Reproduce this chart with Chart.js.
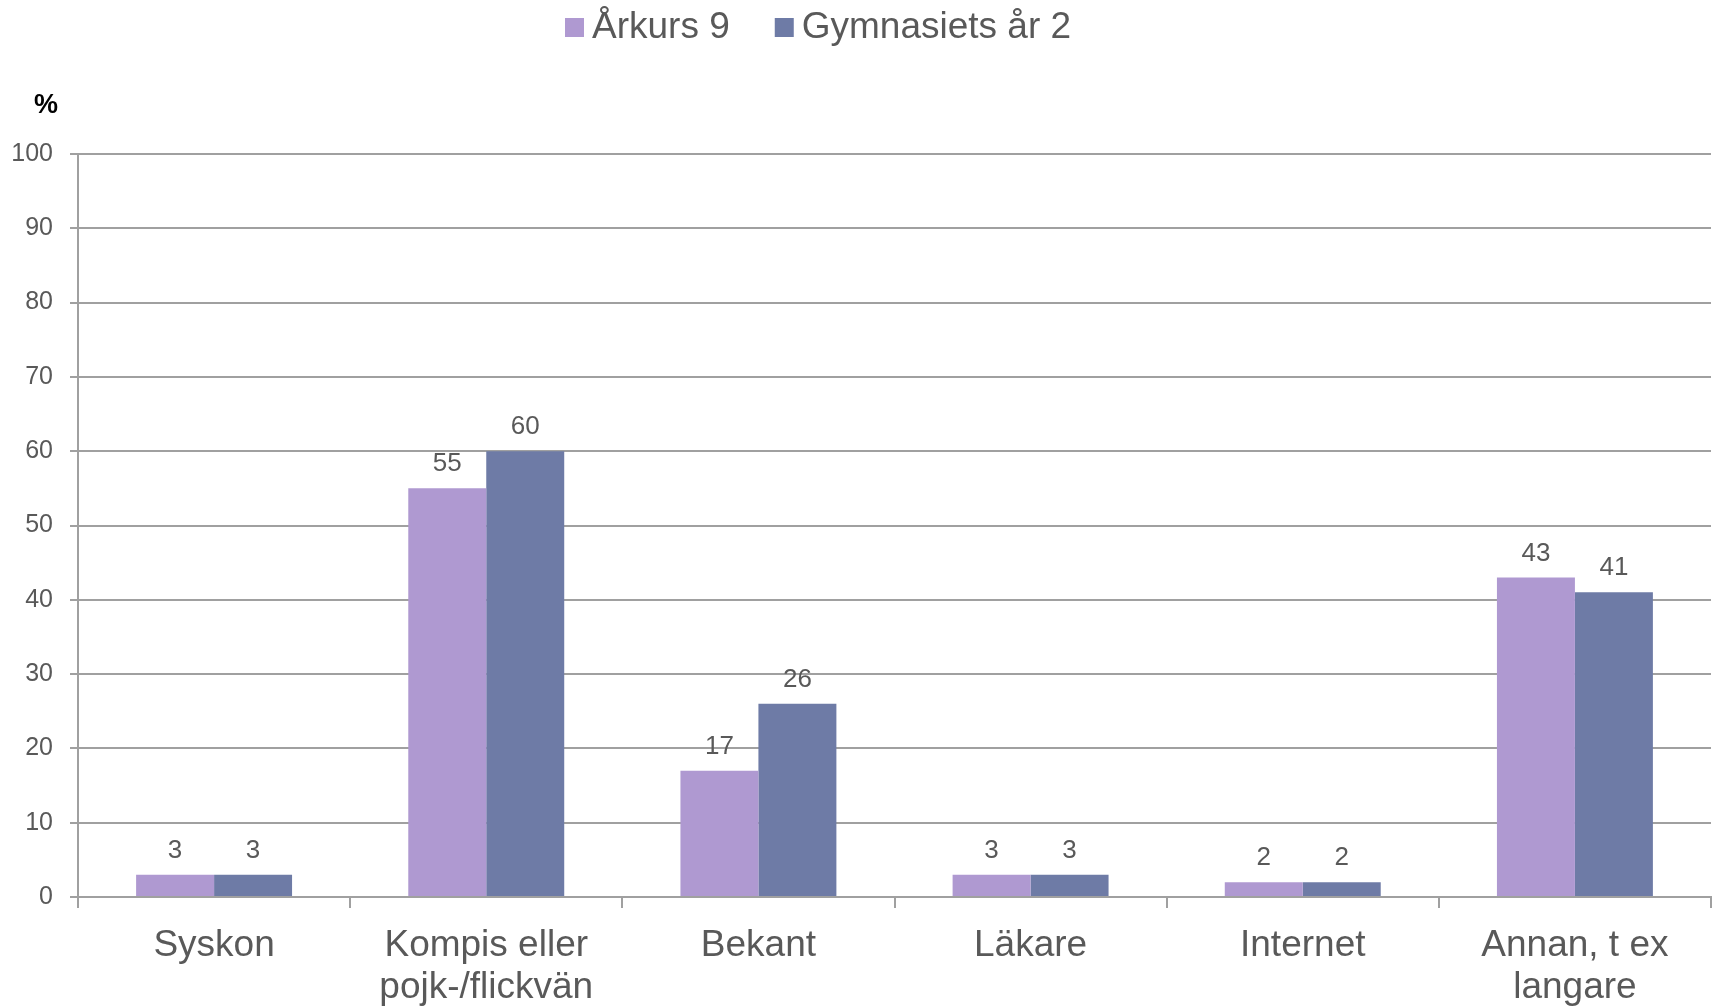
<!DOCTYPE html>
<html><head><meta charset="utf-8">
<script src="https://cdn.jsdelivr.net/npm/chart.js@4/dist/chart.umd.min.js"></script>
<style>html,body{margin:0;padding:0;background:#fff}canvas{display:block}</style>
</head><body>
<canvas id="c" width="1717" height="1007"></canvas>
<script>
const categories = ["Syskon", ["Kompis eller", "pojk-/flickvän"], "Bekant", "Läkare", "Internet", ["Annan, t ex", "langare"]];
const seriesNames = ["Årkurs 9", "Gymnasiets år 2"];
const arkurs9 = [3, 55, 17, 3, 2, 43];
const gymnasiet2 = [3, 60, 26, 3, 2, 41];
const yTicks = [0, 10, 20, 30, 40, 50, 60, 70, 80, 90, 100];
const colors = ["#AF99D1", "#6E7BA6"];
const textColor = "#595959";
const gridColor = "#A0A0A0";
const FONT = "'Liberation Sans', Arial, sans-serif";

const extras = {
  id: 'extras',
  afterDatasetsDraw(chart) {
    const ctx = chart.ctx;
    ctx.save();
    ctx.fillStyle = textColor;
    ctx.font = "26px " + FONT;
    ctx.textAlign = 'center';
    ctx.textBaseline = 'alphabetic';
    chart.data.datasets.forEach((ds, i) => {
      chart.getDatasetMeta(i).data.forEach((bar, j) => {
        ctx.fillText(String(ds.data[j]), bar.x, bar.y - 17);
      });
    });
    ctx.restore();
  },
  afterDraw(chart) {
    const ctx = chart.ctx;
    ctx.save();
    // % label
    ctx.fillStyle = "#000";
    ctx.font = "bold 27px " + FONT;
    ctx.textAlign = 'center';
    ctx.textBaseline = 'middle';
    ctx.fillText("%", 46, 106);
    // legend
    ctx.font = "37px " + FONT;
    ctx.textAlign = 'left';
    ctx.textBaseline = 'middle';
    let x = 565;
    const cy = 27;
    chart.data.datasets.forEach((ds, i) => {
      ctx.fillStyle = ds.backgroundColor;
      ctx.fillRect(x, cy - 9, 19, 19);
      x += 27;
      ctx.fillStyle = textColor;
      ctx.fillText(ds.label, x, cy + 1);
      x += ctx.measureText(ds.label).width + 45;
    });
    ctx.restore();
  }
};

new Chart(document.getElementById('c'), {
  type: 'bar',
  data: {
    labels: categories,
    datasets: [
      { label: seriesNames[0], data: arkurs9, backgroundColor: colors[0] },
      { label: seriesNames[1], data: gymnasiet2, backgroundColor: colors[1] }
    ]
  },
  options: {
    responsive: false,
    animation: false,
    devicePixelRatio: 1,
    layout: { padding: { top: 154, left: 0, right: 6, bottom: 0 } },
    datasets: { bar: { barPercentage: 1.0, categoryPercentage: 0.573 } },
    plugins: { legend: { display: false }, tooltip: { enabled: false } },
    scales: {
      x: {
        offset: true,
        grid: { offset: true, drawOnChartArea: false, drawTicks: true, tickLength: 11, color: gridColor, lineWidth: 2 },
        border: { display: true, color: gridColor, width: 2 },
        ticks: { color: textColor, font: { size: 37, family: FONT, lineHeight: 1.14 }, padding: 17, maxRotation: 0, autoSkip: false },
        afterFit(scale) { scale.height = 110; }
      },
      y: {
        min: 0, max: 100,
        afterBuildTicks(scale) { scale.ticks = yTicks.map(v => ({ value: v })); },
        grid: { color: gridColor, lineWidth: 2, drawTicks: true, tickLength: 8 },
        border: { display: true, color: gridColor, width: 2 },
        ticks: { color: textColor, font: { size: 25, family: FONT }, padding: 17 },
        afterFit(scale) { scale.width = 78; }
      }
    }
  },
  plugins: [extras]
});
</script>
</body></html>
